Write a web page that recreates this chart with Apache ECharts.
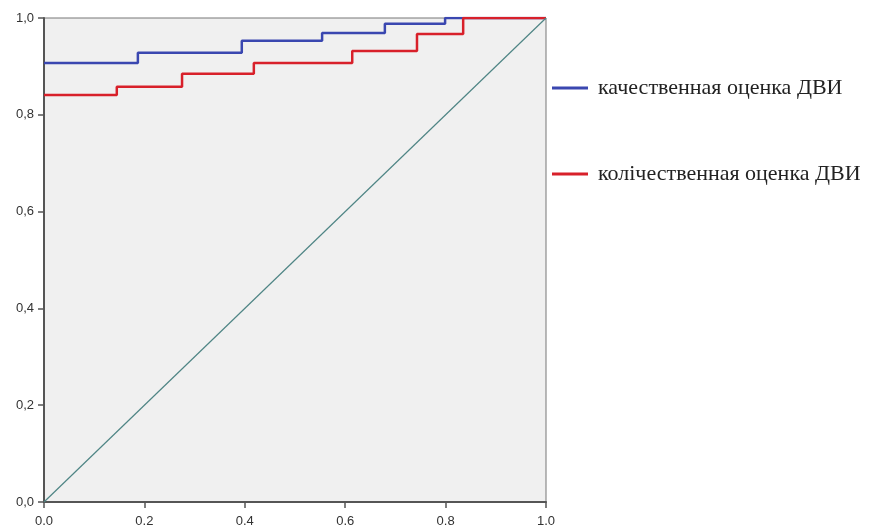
<!DOCTYPE html>
<html lang="ru">
  <head>
    <meta charset="UTF-8" />
    <script src="https://cdn.jsdelivr.net/npm/echarts@6/dist/echarts.min.js"></script>
    <title>ROC</title>
    <style>
      html, body { margin: 0; padding: 0; background: #fff; }
      #container { width: 869px; height: 528px; }
    </style>
  </head>
  <body>
    <div id="container"></div>
    <script>
      // ROC curves: [1 - specificity, sensitivity]
      const qualitative = [
        [0, 0.907], [0.187, 0.928], [0.394, 0.953], [0.554, 0.969],
        [0.679, 0.988], [0.799, 1.0], [1.0, 1.0],
      ];
      const quantitative = [
        [0, 0.841], [0.145, 0.858], [0.275, 0.885], [0.418, 0.907],
        [0.614, 0.932], [0.743, 0.967], [0.835, 1.0], [1.0, 1.0],
      ];
      const reference = [[0, 0], [1, 1]];

      const seriesNames = ["качественная оценка ДВИ", "колiчественная оценка ДВИ"];

      const chart = echarts.init(document.getElementById("container"));

      const axisBase = {
        type: "value",
        min: 0,
        max: 1,
        interval: 0.2,
        splitLine: { show: false },
        axisLine: { show: true, lineStyle: { color: "#555", width: 2 } },
        axisTick: { show: true, length: 6, lineStyle: { color: "#555", width: 1.5 } },
      };

      chart.setOption({
        animation: false,
        grid: {
          left: 44, top: 18, right: 323, bottom: 25,
          show: true, backgroundColor: "#f0f0f0",
          borderColor: "#777", borderWidth: 1,
        },
        legend: {
          orient: "vertical",
          left: 547, top: 72,
          itemGap: 64,
          itemWidth: 36, itemHeight: 3,
          icon: "rect",
          data: seriesNames,
          textStyle: { fontFamily: "Liberation Serif", fontSize: 22, color: "#222", padding: [0, 0, 0, 5] },
        },
        xAxis: Object.assign({}, axisBase, {
          axisLabel: {
            fontFamily: "Liberation Sans", fontSize: 13, color: "#333", margin: 13,
            formatter: (v) => v.toFixed(1),
          },
        }),
        yAxis: Object.assign({}, axisBase, {
          axisLabel: {
            fontFamily: "Liberation Sans", fontSize: 13, color: "#333", margin: 10,
            formatter: (v) => v.toFixed(1).replace(".", ","),
          },
        }),
        series: [
          {
            name: seriesNames[0],
            type: "line",
            step: "end",
            data: qualitative,
            symbol: "none",
            color: "#3a47b0",
            lineStyle: { width: 2.5, color: "#3a47b0" },
          },
          {
            name: seriesNames[1],
            type: "line",
            step: "end",
            data: quantitative,
            symbol: "none",
            color: "#d8202a",
            lineStyle: { width: 2.5, color: "#d8202a" },
          },
          {
            type: "line",
            data: reference,
            symbol: "none",
            silent: true,
            lineStyle: { width: 1.2, color: "#4f8585" },
          },
        ],
      });
    </script>
  </body>
</html>
